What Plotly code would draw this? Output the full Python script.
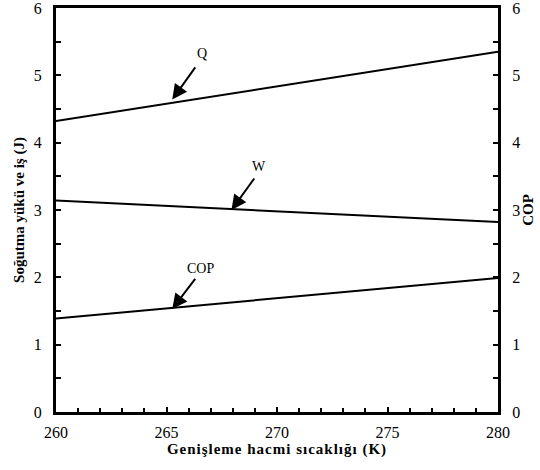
import plotly.graph_objects as go

temps = [260, 265, 270, 275, 280]
q_vals = [4.32, 4.58, 4.84, 5.09, 5.35]
w_vals = [3.14, 3.06, 2.98, 2.90, 2.82]
cop_vals = [1.39, 1.54, 1.69, 1.84, 1.99]

x_ticks = [260, 265, 270, 275, 280]
y_ticks = [0, 1, 2, 3, 4, 5, 6]

serif = "Liberation Serif"

fig = go.Figure()
line = dict(color="black", width=2)
fig.add_trace(go.Scatter(x=temps, y=q_vals, mode="lines", line=line, name="Q"))
fig.add_trace(go.Scatter(x=temps, y=w_vals, mode="lines", line=line, name="W"))
fig.add_trace(go.Scatter(x=temps, y=cop_vals, mode="lines", line=line, name="COP", yaxis="y2"))

labels = [
    # (text, label_x, label_y, head_x, head_y, tail_x, tail_y)
    ("Q", 266.6, 5.33, 265.26, 4.64, 266.35, 5.14),
    ("W", 269.2, 3.64, 267.94, 3.0, 269.02, 3.49),
    ("COP", 266.55, 2.13, 265.26, 1.53, 266.35, 2.0),
]
for txt, lx, ly, hx, hy, tx, ty in labels:
    fig.add_annotation(x=lx, y=ly, xref="x", yref="y", text=txt, showarrow=False,
                       font=dict(family=serif, size=14, color="black"))
    fig.add_annotation(x=hx, y=hy, xref="x", yref="y", ax=tx, ay=ty, axref="x", ayref="y",
                       text="", showarrow=True, arrowhead=2, arrowsize=1.5, arrowwidth=2,
                       arrowcolor="black")

tickfont = dict(family=serif, size=16, color="black")
titlefont = dict(family=serif, size=15, color="black", weight="bold")
fig.update_layout(
    width=540, height=470,
    margin=dict(l=56, r=42, t=8, b=58),
    paper_bgcolor="white", plot_bgcolor="white",
    showlegend=False,
    xaxis=dict(range=[260, 280], tickvals=x_ticks, ticks="inside", ticklen=5, tickwidth=2,
               tickcolor="black", showline=True, linecolor="black", linewidth=3, mirror=True,
               showgrid=False, zeroline=False, tickfont=tickfont, ticklabelstandoff=4,
               automargin=False, ticklabeloverflow="allow",
               minor=dict(dtick=1, ticks="inside", ticklen=4, tickwidth=2, tickcolor="black"),
               title=dict(text="Genişleme hacmi sıcaklığı (K)", standoff=2, font=titlefont)),
    yaxis=dict(range=[0, 6], tickvals=y_ticks, ticks="inside", ticklen=5, tickwidth=2,
               tickcolor="black", showline=True, linecolor="black", linewidth=3,
               showgrid=False, zeroline=False, tickfont=tickfont, ticklabelstandoff=8,
               automargin=False, ticklabeloverflow="allow",
               minor=dict(dtick=0.5, ticks="inside", ticklen=5, tickwidth=2, tickcolor="black"),
               title=dict(text="Soğutma yükü ve iş (J)", standoff=6, font=titlefont)),
    yaxis2=dict(range=[0, 6], tickvals=y_ticks, overlaying="y", side="right", ticks="inside",
                ticklen=5, tickwidth=2, tickcolor="black", showline=True, linecolor="black",
                linewidth=3, showgrid=False, zeroline=False, tickfont=tickfont,
                ticklabelstandoff=8, automargin=False, ticklabeloverflow="allow",
                minor=dict(dtick=0.5, ticks="inside", ticklen=5, tickwidth=2, tickcolor="black"),
                title=dict(text="COP", standoff=4, font=titlefont)),
)

post = (
    "document.body.style.margin='0';"
    "var s=document.createElement('style');"
    "s.textContent='.xtitle{letter-spacing:1px;}';"
    "document.head.appendChild(s);"
)
fig.write_html("out.html", config={"displayModeBar": False}, post_script=post)
